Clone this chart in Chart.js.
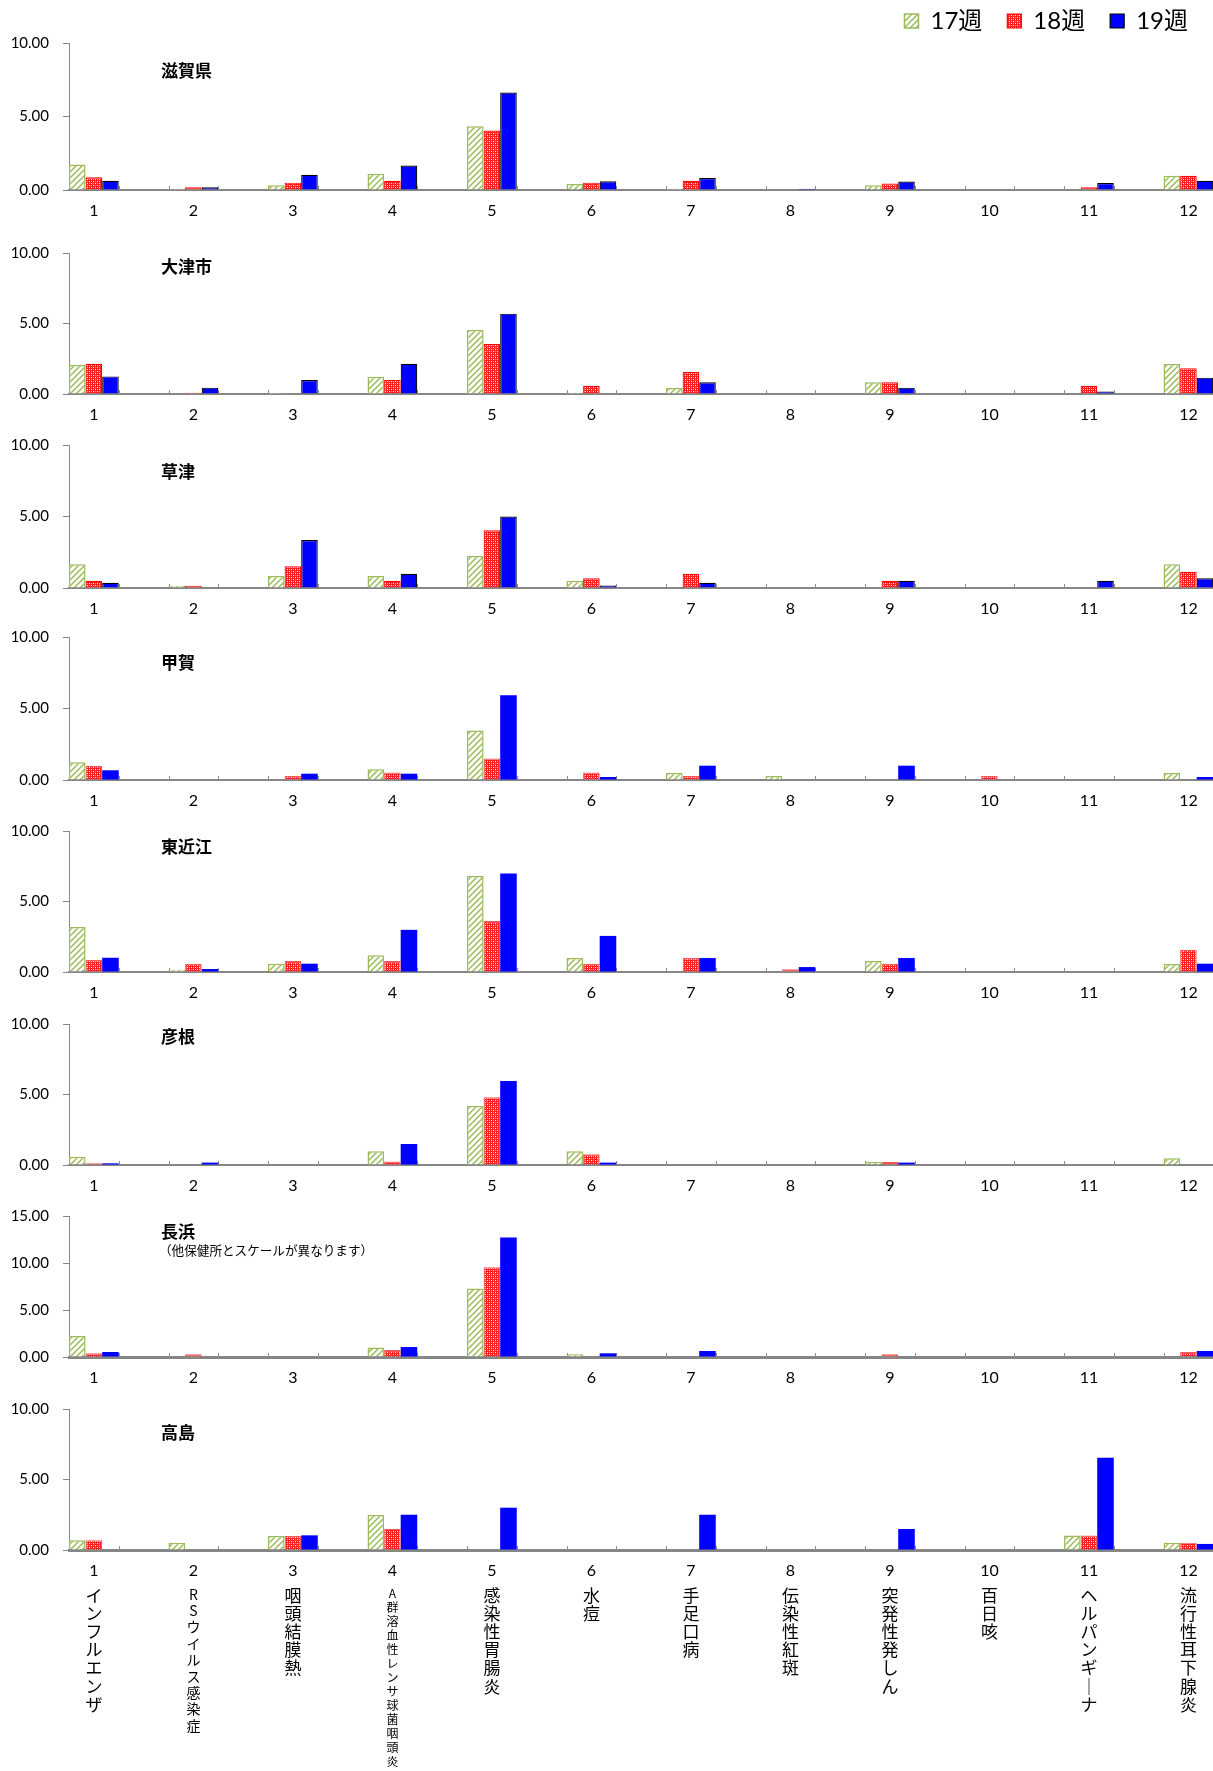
<!DOCTYPE html>
<html lang="ja">
<head>
<meta charset="utf-8">
<title>保健所別 定点当たり報告数</title>
<script src="https://cdn.jsdelivr.net/npm/chart.js@4.4.1/dist/chart.umd.min.js"></script>
<style>
  html, body { margin: 0; padding: 0; background: #fff; overflow: hidden; }
  #page { position: relative; width: 1213px; height: 1771px; overflow: hidden; background: #fff; }
  #page canvas { position: absolute; left: 0; }
  .panel-title {
    position: absolute; left: 161px; line-height: 1; white-space: nowrap;
    font-family: "Noto Sans CJK JP", sans-serif; font-weight: 700; font-size: 17px; color: #000;
  }
  .panel-note {
    position: absolute; left: 159px; line-height: 1; white-space: nowrap;
    font-family: "Noto Sans CJK JP", sans-serif; font-size: 12.6px; color: #000;
  }
</style>
</head>
<body>
<div id="page"></div>
<script>
// ---- data ----
const categories = [1, 2, 3, 4, 5, 6, 7, 8, 9, 10, 11, 12];
const diseaseNames = [
  "インフルエンザ", "RSウイルス感染症", "咽頭結膜熱", "A群溶血性レンサ球菌咽頭炎",
  "感染性胃腸炎", "水痘", "手足口病", "伝染性紅斑", "突発性発しん", "百日咳",
  "ヘルパンギーナ", "流行性耳下腺炎",
];
const weekLabels = ["17週", "18週", "19週"];
const panelNames = ["滋賀県", "大津市", "草津", "甲賀", "東近江", "彦根", "長浜", "高島"];
const nagahamaNote = "（他保健所とスケールが異なります）";
const yTicks = [0, 5, 10];
const yTicksWide = [0, 5, 10, 15];

const shiga17 = [1.74, 0.09, 0.32, 1.11, 4.34, 0.41, 0.09, 0, 0.32, 0, 0, 0.97];
const shiga18 = [0.86, 0.18, 0.5, 0.63, 4.05, 0.5, 0.63, 0, 0.45, 0, 0.18, 0.97];
const shiga19 = [0.63, 0.18, 1.04, 1.67, 6.63, 0.59, 0.81, 0.09, 0.57, 0, 0.48, 0.63];

const otsu17 = [2.06, 0, 0.09, 1.23, 4.54, 0.09, 0.43, 0, 0.83, 0, 0, 2.13];
const otsu18 = [2.15, 0.09, 0, 0.99, 3.55, 0.59, 1.56, 0, 0.83, 0, 0.59, 1.82];
const otsu19 = [1.25, 0.45, 0.99, 2.15, 5.7, 0, 0.83, 0, 0.45, 0, 0.17, 1.16];

const kusatsu17 = [1.66, 0.16, 0.84, 0.84, 2.24, 0.51, 0, 0, 0, 0, 0, 1.66];
const kusatsu18 = [0.51, 0.16, 1.52, 0.51, 4.04, 0.68, 1.0, 0, 0.51, 0, 0, 1.14];
const kusatsu19 = [0.37, 0, 3.36, 1.0, 5.0, 0.17, 0.37, 0, 0.51, 0, 0.51, 0.68];

const koka17 = [1.24, 0, 0, 0.75, 3.47, 0, 0.49, 0.28, 0, 0, 0, 0.49];
const koka18 = [1.0, 0, 0.28, 0.52, 1.5, 0.52, 0.28, 0, 0, 0.28, 0, 0];
const koka19 = [0.68, 0, 0.44, 0.44, 5.93, 0.21, 1.0, 0, 1.0, 0, 0, 0.21];

const higashiomi17 = [3.2, 0.16, 0.59, 1.18, 6.8, 0.99, 0, 0, 0.78, 0, 0, 0.56];
const higashiomi18 = [0.85, 0.59, 0.78, 0.78, 3.62, 0.59, 0.99, 0.19, 0.59, 0, 0, 1.58];
const higashiomi19 = [1.01, 0.21, 0.59, 2.99, 6.99, 2.56, 0.99, 0.35, 0.99, 0, 0, 0.59];

const hikone17 = [0.59, 0, 0, 0.97, 4.18, 0.97, 0, 0, 0.21, 0, 0, 0.47];
const hikone18 = [0.12, 0, 0, 0.24, 4.8, 0.76, 0, 0, 0.21, 0, 0, 0];
const hikone19 = [0.12, 0.17, 0, 1.49, 5.96, 0.17, 0, 0, 0.17, 0, 0, 0];

const nagahama17 = [2.23, 0, 0, 1.02, 7.28, 0.28, 0, 0, 0, 0, 0, 0];
const nagahama18 = [0.39, 0.28, 0, 0.74, 9.54, 0, 0, 0, 0.28, 0, 0, 0.53];
const nagahama19 = [0.53, 0, 0, 1.06, 12.72, 0.39, 0.64, 0, 0, 0, 0, 0.64];

const takashima17 = [0.69, 0.52, 0.99, 2.48, 0, 0, 0, 0, 0, 0, 1.02, 0.52];
const takashima18 = [0.69, 0, 0.99, 1.51, 0, 0, 0, 0, 0, 0, 1.02, 0.52];
const takashima19 = [0, 0, 1.04, 2.5, 3.0, 0, 2.5, 0, 1.49, 0, 6.55, 0.43];

const panelSeries = [
  [shiga17, shiga18, shiga19],
  [otsu17, otsu18, otsu19],
  [kusatsu17, kusatsu18, kusatsu19],
  [koka17, koka18, koka19],
  [higashiomi17, higashiomi18, higashiomi19],
  [hikone17, hikone18, hikone19],
  [nagahama17, nagahama18, nagahama19],
  [takashima17, takashima18, takashima19],
];
const panelTicks = [yTicks, yTicks, yTicks, yTicks, yTicks, yTicks, yTicksWide, yTicks];

// ---- layout ----
const PAGE_W = 1213;
const Y_AXIS_W = 69;
const X_AXIS_H = 36;
const NAME_AXIS_H = 185;
const PAD_TOP = 12;
const LEGEND_H = 59;
const CAT_PCT = 0.5;            // group takes half of each category band
const GROUP_HALF = CAT_PCT / 2;
const X_MIN = 1 - GROUP_HALF;   // y axis sits at the left edge of group 1
const X_MAX = 12.247;
const PANEL_TOP = [43, 242, 434, 626, 820, 1013, 1205, 1398];
const PANEL_ZERO = [190, 394, 588, 780, 972, 1165, 1357, 1550];
const TITLE_Y = [70, 266, 471, 662, 846, 1036, 1231, 1432];
const NOTE_Y = 1251;
const NUM_FONT = 'Lato, "Noto Sans CJK JP", sans-serif';
const CJK_FONT = '"Noto Sans CJK JP", sans-serif';

const page = document.getElementById("page");

const makeTile = (size, paint) => {
  const c = document.createElement("canvas");
  c.width = size;
  c.height = size;
  paint(c.getContext("2d"), size);
  return c.getContext("2d").createPattern(c, "repeat");
};

const stripePattern = makeTile(6, (ctx, s) => {
  ctx.fillStyle = "#ffffff";
  ctx.fillRect(0, 0, s, s);
  ctx.strokeStyle = "#9bbb59";
  ctx.lineWidth = 1.5;
  ctx.beginPath();
  ctx.moveTo(-1, s + 1); ctx.lineTo(s + 1, -1);
  ctx.moveTo(-1, 1); ctx.lineTo(1, -1);
  ctx.moveTo(s - 1, s + 1); ctx.lineTo(s + 1, s - 1);
  ctx.stroke();
});

const dotPattern = makeTile(4, (ctx, s) => {
  ctx.fillStyle = "#ff1f1f";
  ctx.fillRect(0, 0, s, s);
  ctx.fillStyle = "#ffffff";
  ctx.fillRect(1, 1, 1, 1);
  ctx.fillRect(3, 3, 1, 1);
  ctx.fillStyle = "#ff9a9a";
  ctx.fillRect(1, 3, 1, 1);
  ctx.fillRect(3, 1, 1, 1);
});

const seriesStyle = (outlined) => [
  { backgroundColor: stripePattern, borderColor: "#9bbb59", borderWidth: 1.5 },
  { backgroundColor: dotPattern, borderColor: outlined ? "#ff0000" : "#ee5a5a", borderWidth: 1.2 },
  { backgroundColor: "#0000ff", borderColor: outlined ? "#000000" : "#0000ff", borderWidth: outlined ? 1.2 : 0 },
];

// small marks at the group edges along the category axis
const groupTicks = {
  id: "groupTicks",
  beforeDatasetsDraw(chart) {
    const { ctx, chartArea, scales } = chart;
    const base = Math.round(scales.y.getPixelForValue(0));
    ctx.save();
    ctx.strokeStyle = "#8c8c8c";
    ctx.lineWidth = 1;
    ctx.beginPath();
    categories.forEach((c) => {
      [c - GROUP_HALF, c + GROUP_HALF].forEach((v) => {
        const px = Math.round(scales.x.getPixelForValue(v)) + 0.5;
        if (px > chartArea.left + 2 && px < chartArea.right) {
          ctx.moveTo(px, base);
          ctx.lineTo(px, base - 4);
        }
      });
    });
    ctx.stroke();
    ctx.restore();
  },
};

const nameFontSize = (name) => (name.length > 10 ? 12 : name.length > 7 ? 14 : 17);
const nameLineHeight = (name) => (name.length > 10 ? 14 : name.length > 7 ? 16.4 : 18.2);
const verticalChars = (name) => Array.from(name).map((ch) => (ch === "ー" ? "｜" : ch));

const categoryTicks = (scale) => {
  scale.ticks = categories.map((value) => ({ value }));
};

const buildPanel = (series, index) => {
  const isFirst = index === 0;
  const isLast = index === panelSeries.length - 1;
  const top = PANEL_TOP[index];
  const zero = PANEL_ZERO[index];
  const ticks = panelTicks[index];
  const canvasTop = isFirst ? top - LEGEND_H : top - PAD_TOP;
  const bottomH = X_AXIS_H + (isLast ? NAME_AXIS_H : 0);
  const height = zero + bottomH - canvasTop;

  const canvas = document.createElement("canvas");
  canvas.width = PAGE_W;
  canvas.height = height;
  canvas.style.width = PAGE_W + "px";
  canvas.style.height = height + "px";
  canvas.style.top = canvasTop + "px";
  page.appendChild(canvas);

  const styles = seriesStyle(index < 3);
  const datasets = series.map((values, s) => ({
    label: weekLabels[s],
    data: values.map((y, i) => ({ x: categories[i], y })),
    ...styles[s],
    borderSkipped: "start",
    categoryPercentage: CAT_PCT,
    barPercentage: 1,
  }));

  const scales = {
    x: {
      type: "linear",
      min: X_MIN,
      max: X_MAX,
      offset: false,
      afterBuildTicks: categoryTicks,
      afterFit: (s) => { s.height = X_AXIS_H; },
      grid: { display: false, drawTicks: false, offset: false },
      border: { display: true, color: "#868686", width: index >= 6 ? 3 : 2 },
      ticks: {
        autoSkip: false, maxRotation: 0, minRotation: 0, padding: 11,
        color: "#000", font: { family: NUM_FONT, size: 16 },
        callback: (v) => String(v),
      },
    },
    y: {
      min: 0,
      max: ticks[ticks.length - 1],
      afterBuildTicks: (s) => { s.ticks = ticks.map((value) => ({ value })); },
      afterFit: (s) => { s.width = Y_AXIS_W; },
      grid: { drawOnChartArea: false, drawTicks: true, tickLength: 6, color: "#868686" },
      border: { display: true, color: "#868686", width: 1 },
      ticks: {
        padding: 14, color: "#000", font: { family: NUM_FONT, size: 15 },
        callback: (v) => Number(v).toFixed(2),
      },
    },
  };

  if (isLast) {
    scales.names = {
      type: "linear",
      position: "bottom",
      axis: "x",
      weight: 1,
      min: X_MIN,
      max: X_MAX,
      offset: false,
      afterBuildTicks: categoryTicks,
      afterFit: (s) => { s.height = NAME_AXIS_H; },
      grid: { display: false, drawTicks: false },
      border: { display: false },
      ticks: {
        autoSkip: false, maxRotation: 0, minRotation: 0, padding: 0, color: "#000",
        font: (ctx) => {
          const name = diseaseNames[ctx.index] || "";
          return { family: CJK_FONT, size: nameFontSize(name), lineHeight: nameLineHeight(name) + "px" };
        },
        callback: (v, i) => verticalChars(diseaseNames[i]),
      },
    };
  }

  new Chart(canvas, {
    type: "bar",
    data: { datasets },
    plugins: [groupTicks],
    options: {
      responsive: false,
      animation: false,
      events: [],
      layout: { padding: { top: isFirst ? 0 : PAD_TOP, left: 0, right: 0, bottom: 0 } },
      scales,
      plugins: {
        tooltip: { enabled: false },
        legend: {
          display: isFirst,
          position: "top",
          align: "end",
          labels: {
            color: "#000",
            font: { family: NUM_FONT, size: 24 },
            boxWidth: 14,
            boxHeight: 14,
            padding: 25,
          },
        },
      },
    },
  });

  const title = document.createElement("div");
  title.className = "panel-title";
  title.textContent = panelNames[index];
  title.style.top = TITLE_Y[index] - 9 + "px";
  page.appendChild(title);

  if (panelNames[index] === "長浜") {
    const note = document.createElement("div");
    note.className = "panel-note";
    note.textContent = nagahamaNote;
    note.style.top = NOTE_Y - 7 + "px";
    page.appendChild(note);
  }
};

panelSeries.forEach(buildPanel);
</script>
</body>
</html>
